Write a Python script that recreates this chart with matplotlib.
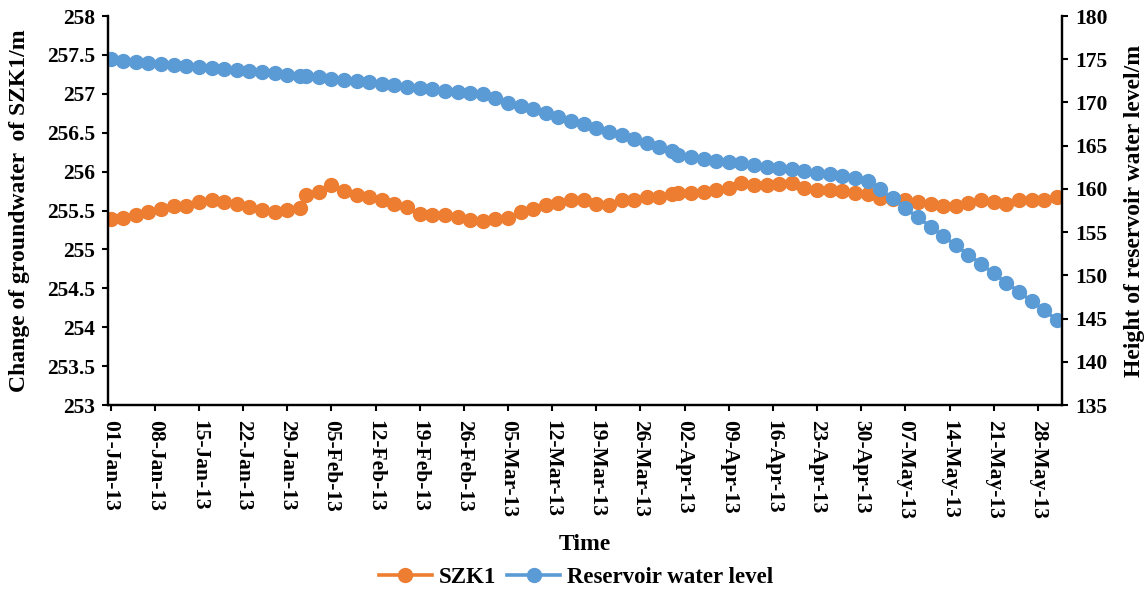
import matplotlib
matplotlib.use("Agg")
import matplotlib.pyplot as plt
import matplotlib.dates as mdates
from matplotlib.ticker import FuncFormatter, MultipleLocator
import pandas as pd

plt.rcParams["font.family"] = ["Liberation Serif", "DejaVu Serif"]
plt.rcParams["font.weight"] = "bold"

# Observation dates (odd days of each month, plus the 1st)
dates = [
    "2013-01-01", "2013-01-03", "2013-01-05", "2013-01-07", "2013-01-09", "2013-01-11",
    "2013-01-13", "2013-01-15", "2013-01-17", "2013-01-19", "2013-01-21", "2013-01-23",
    "2013-01-25", "2013-01-27", "2013-01-29", "2013-01-31",
    "2013-02-01", "2013-02-03", "2013-02-05", "2013-02-07", "2013-02-09", "2013-02-11",
    "2013-02-13", "2013-02-15", "2013-02-17", "2013-02-19", "2013-02-21", "2013-02-23",
    "2013-02-25", "2013-02-27",
    "2013-03-01", "2013-03-03", "2013-03-05", "2013-03-07", "2013-03-09", "2013-03-11",
    "2013-03-13", "2013-03-15", "2013-03-17", "2013-03-19", "2013-03-21", "2013-03-23",
    "2013-03-25", "2013-03-27", "2013-03-29", "2013-03-31",
    "2013-04-01", "2013-04-03", "2013-04-05", "2013-04-07", "2013-04-09", "2013-04-11",
    "2013-04-13", "2013-04-15", "2013-04-17", "2013-04-19", "2013-04-21", "2013-04-23",
    "2013-04-25", "2013-04-27", "2013-04-29",
    "2013-05-01", "2013-05-03", "2013-05-05", "2013-05-07", "2013-05-09", "2013-05-11",
    "2013-05-13", "2013-05-15", "2013-05-17", "2013-05-19", "2013-05-21", "2013-05-23",
    "2013-05-25", "2013-05-27", "2013-05-29", "2013-05-31",
]

# Groundwater level at SZK1 (m)
szk1 = [
    255.39, 255.41, 255.44, 255.48, 255.52, 255.56, 255.56, 255.61, 255.64, 255.61,
    255.59, 255.55, 255.51, 255.48, 255.51, 255.53,
    255.70, 255.74, 255.83, 255.75, 255.70, 255.67, 255.64, 255.59, 255.54, 255.45,
    255.44, 255.44, 255.42, 255.38,
    255.36, 255.39, 255.41, 255.48, 255.52, 255.57, 255.60, 255.63, 255.64, 255.58,
    255.57, 255.64, 255.64, 255.67, 255.68, 255.71,
    255.73, 255.72, 255.74, 255.76, 255.79, 255.85, 255.83, 255.83, 255.84, 255.85,
    255.79, 255.77, 255.76, 255.75, 255.73,
    255.71, 255.66, 255.65, 255.64, 255.61, 255.59, 255.56, 255.56, 255.60, 255.63,
    255.61, 255.58, 255.64, 255.64, 255.64, 255.67,
]

# Reservoir water level (m)
reservoir = [
    175.03, 174.83, 174.68, 174.56, 174.45, 174.33, 174.22, 174.10, 173.95, 173.83,
    173.72, 173.60, 173.49, 173.37, 173.21, 173.09,
    173.02, 172.91, 172.75, 172.63, 172.52, 172.36, 172.17, 171.98, 171.82, 171.67,
    171.52, 171.36, 171.21, 171.06,
    170.94, 170.48, 169.97, 169.59, 169.21, 168.74, 168.35, 167.89, 167.47, 167.08,
    166.62, 166.23, 165.77, 165.27, 164.85, 164.41,
    163.92, 163.72, 163.42, 163.23, 163.07, 162.96, 162.76, 162.57, 162.38, 162.27,
    162.07, 161.87, 161.72, 161.49, 161.22,
    160.97, 159.95, 158.91, 157.75, 156.71, 155.62, 154.55, 153.47, 152.39, 151.31,
    150.23, 149.15, 148.10, 147.03, 145.99, 144.83,
]

labels = ["SZK1", "Reservoir water level"]
orange = "#ED7D31"
blue = "#5B9BD5"

x = pd.to_datetime(dates)

fig = plt.figure(figsize=(11.45, 5.91), dpi=100)
ax = fig.add_axes([0.0943, 0.3147, 0.8332, 0.6582])
ax2 = ax.twinx()

l1, = ax.plot(x, szk1, color=orange, lw=2.6, marker="o", ms=10, label=labels[0])
l2, = ax2.plot(x, reservoir, color=blue, lw=2.6, marker="o", ms=10, label=labels[1])

ax.set_ylim(253, 258)
ax.yaxis.set_major_locator(MultipleLocator(0.5))
ax2.set_ylim(135, 180)
ax2.yaxis.set_major_locator(MultipleLocator(5))
ax.yaxis.set_major_formatter(FuncFormatter(lambda v, p: f"{v:g}"))

ax.set_xlim(x[0] - pd.Timedelta(hours=10), x[-1] + pd.Timedelta(hours=20))
ticks = pd.date_range("2013-01-01", "2013-05-28", freq="7D")
ax.set_xticks(ticks)
ax.xaxis.set_major_formatter(mdates.DateFormatter("%d-%b-%y"))

for a in (ax, ax2):
    a.spines["top"].set_visible(False)
    for s in ("left", "right", "bottom"):
        a.spines[s].set_linewidth(1.6)
    a.tick_params(width=1.5, length=4.5, labelsize=15.5, direction="out")

ax.tick_params(axis="x", rotation=270, pad=6)
ax.tick_params(axis="y", pad=5)
ax2.tick_params(axis="y", pad=5)
for t in ax.get_xticklabels() + ax.get_yticklabels() + ax2.get_yticklabels():
    t.set_fontweight("bold")

ax.set_xlabel("Time", fontsize=17, fontweight="bold", labelpad=11)
ax.set_ylabel("Change of groundwater  of SZK1/m", fontsize=17, fontweight="bold", labelpad=12)
ax2.set_ylabel("Height of reservoir water level/m", fontsize=17, fontweight="bold", labelpad=12)

fig.legend(handles=[l1, l2], labels=labels, loc="center", bbox_to_anchor=(0.503, 0.023),
           ncol=2, frameon=False, prop={"size": 16.5, "weight": "bold"},
           handlelength=2.3, handletextpad=0.3, columnspacing=0.5, borderpad=0)

fig.savefig("out.png", dpi=100)
